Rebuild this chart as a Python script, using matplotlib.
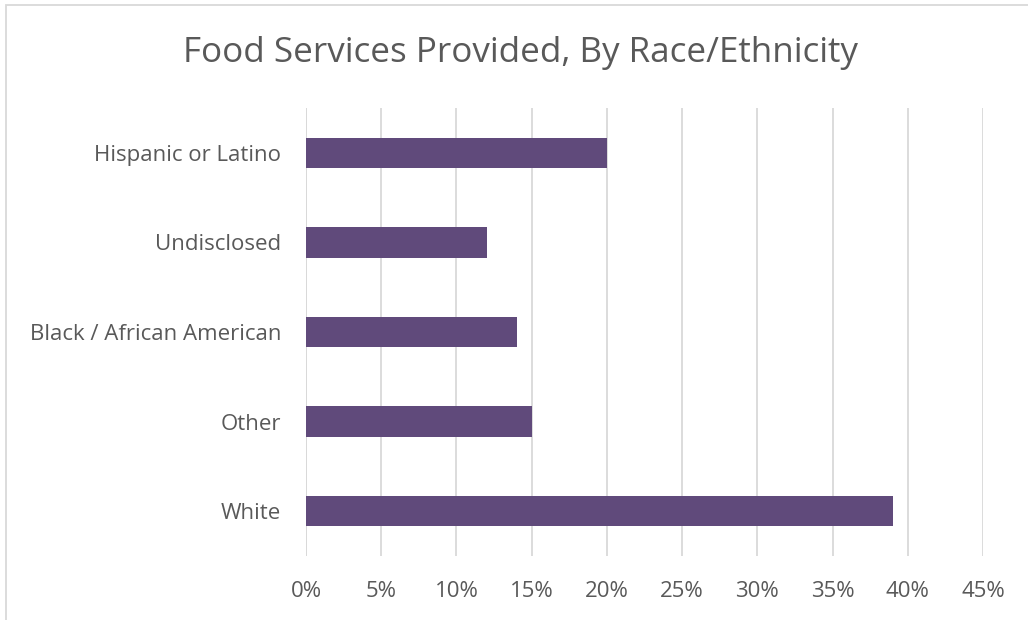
import matplotlib.pyplot as plt
from matplotlib.patches import Rectangle
from matplotlib.ticker import FuncFormatter

plt.rcParams['font.family'] = ['Open Sans', 'DejaVu Sans']

# data (top to bottom as shown)
categories = ['Hispanic or Latino', 'Undisclosed', 'Black / African American', 'Other', 'White']
shares = [20, 12, 14, 15, 39]
ticks = [0, 5, 10, 15, 20, 25, 30, 35, 40, 45]

bar_color = '#604A7B'
text_color = '#595959'
grid_color = '#D9D9D9'

fig = plt.figure(figsize=(10.28, 6.2), dpi=100)
ax = fig.add_axes([306 / 1028, 1 - 556 / 620, (983 - 306) / 1028, (556 - 108) / 620])

pos = list(range(len(categories)))
ax.barh(pos, shares, height=0.34, color=bar_color, zorder=3)
ax.set_yticks(pos)
ax.set_yticklabels(categories)
ax.set_ylim(len(categories) - 0.5, -0.5)

ax.set_xlim(0, 45)
ax.set_xticks(ticks)
ax.xaxis.set_major_formatter(FuncFormatter(lambda v, p: f'{v:.0f}%'))
ax.grid(axis='x', color=grid_color, linewidth=1.3, zorder=0)
ax.axvline(0, color=grid_color, linewidth=1.3, zorder=1)

for s in ax.spines.values():
    s.set_visible(False)
ax.tick_params(length=0, labelsize=16, colors=text_color)
ax.tick_params(axis='x', pad=18)
ax.tick_params(axis='y', pad=18)

fig.text(0.506, 0.914, 'Food Services Provided, By Race/Ethnicity', ha='center', va='center',
         fontsize=25.2, color=text_color)

# chart frame
fig.patches.append(Rectangle((6 / 1028, -0.01), 1.1, 1 - 5 / 620 + 0.01, transform=fig.transFigure,
                             fill=False, edgecolor=grid_color, linewidth=1.3))

fig.savefig('out.png', dpi=100)
